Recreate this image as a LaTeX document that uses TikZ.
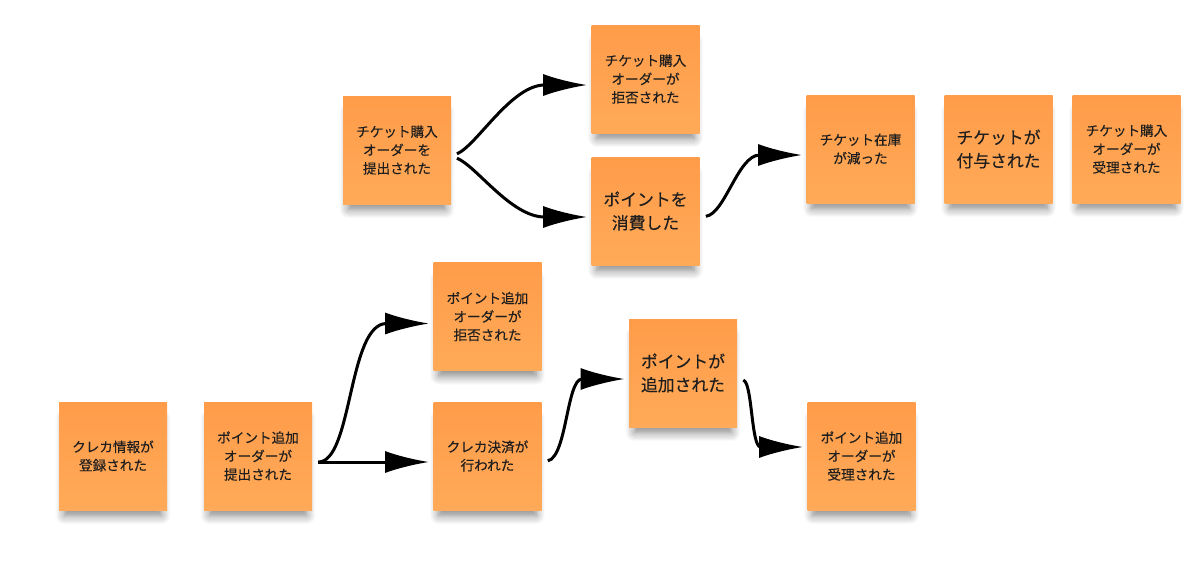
\documentclass[tikz,border=0pt]{standalone}
\usepackage{fontspec}
\setmainfont{Noto Sans CJK JP}[FakeBold=0.3]
\usetikzlibrary{arrows.meta,shadows.blur}
\definecolor{stickytop}{HTML}{FF9C4A}
\definecolor{stickybot}{HTML}{FFAA58}
\definecolor{inktext}{HTML}{1E1E1E}
\begin{document}
\begin{tikzpicture}[x=0.5pt,y=-0.5pt,
    sticky/.style={minimum width=54pt,minimum height=54pt,inner sep=0pt,
        top color=stickytop,bottom color=stickybot,text=inktext,align=center,
        blur shadow={shadow xshift=0pt,shadow yshift=-6pt,shadow scale=0.9,
            shadow blur radius=5pt,shadow blur steps=8,shadow opacity=50}},
    small/.style={sticky,font=\fontsize{6.8}{9.2}\selectfont},
    big/.style={sticky,font=\fontsize{8.4}{11.7}\selectfont},
    flow/.style={line width=1.5pt,-{Latex[length=22pt,width=11pt]},
        shorten <=3pt,shorten >=2pt}]
    \useasboundingbox (0,0) rectangle (1200,585);
    % three-line notes
    \foreach \n/\p/\t in {subT/{397,150}/{チケット購入\\オーダーを\\提出された},
        rejT/{645.5,79}/{チケット購入\\オーダーが\\拒否された},
        stock/{860.5,149}/{チケット在庫\\が減った},
        accT/{1126.5,149}/{チケット購入\\オーダーが\\受理された},
        rejP/{487.5,316.5}/{ポイント追加\\オーダーが\\拒否された},
        card/{113,456}/{クレカ情報が\\登録された},
        subP/{258,456}/{ポイント追加\\オーダーが\\提出された},
        pay/{487.5,456}/{クレカ決済が\\行われた},
        accP/{861.5,456}/{ポイント追加\\オーダーが\\受理された}} {
        \node[small] (\n) at (\p) {\t};
    }
    % two-line notes
    \foreach \n/\p/\t in {useP/{645.5,211}/{ポイントを\\消費した},
        given/{998.5,149}/{チケットが\\付与された},
        addP/{683,373}/{ポイントが\\追加された}} {
        \node[big] (\n) at (\p) {\t};
    }
    % flows
    \draw[flow] ([yshift=-3pt]subT.east) .. controls +(25,-10) and +(-80,0) .. ([yshift=-3pt]rejT.west);
    \draw[flow] ([yshift=-3pt]subT.east) .. controls +(25,10) and +(-80,0) .. ([yshift=-3pt]useP.west);
    \draw[flow] ([yshift=-3pt]useP.east) .. controls +(25,-3) and +(-68,0) .. ([yshift=-3pt]stock.west);
    \draw[flow] ([yshift=-3pt]subP.east) -- ([yshift=-3pt]pay.west);
    \draw[flow] ([yshift=-3pt]subP.east) .. controls +(40,0) and +(-85,0) .. ([yshift=-3.5pt]rejP.west);
    \draw[flow] ([yshift=-3pt]pay.east) .. controls +(25,-5) and +(-62,0) .. ([yshift=-3pt]addP.west);
    \draw[flow] ([yshift=-3pt]addP.east) .. controls +(15,3) and +(-56,0) .. ([yshift=4.5pt]accP.west);
\end{tikzpicture}
\end{document}
